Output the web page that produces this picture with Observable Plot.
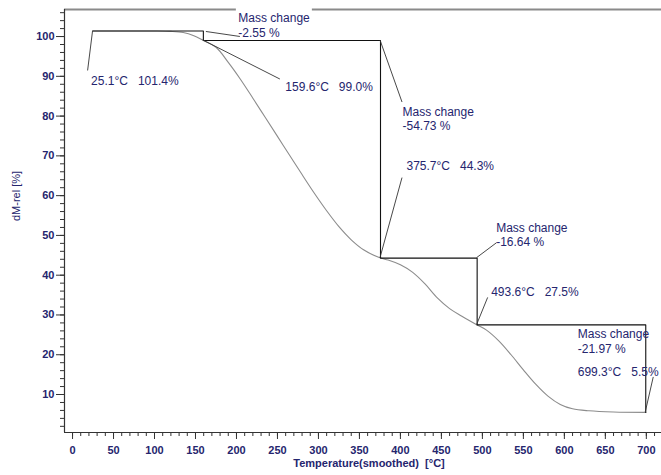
<!DOCTYPE html>
<html><head><meta charset="utf-8">
<script src="https://cdn.jsdelivr.net/npm/d3@7"></script>
<script src="https://cdn.jsdelivr.net/npm/@observablehq/plot@0.6"></script>
<style>body{margin:0;background:#fff} svg{display:block}</style>
</head><body><div id="chart"></div>
<script>
// TG curve (temperature °C, relative mass %)
const curveTemps = [25.1, 60, 100, 120, 135, 148, 159.6, 175, 190, 205, 220, 235, 250, 265, 280, 295, 310, 325, 340, 355, 375.7, 385, 400, 415, 430, 445, 460, 475, 493.6, 505, 520, 535, 550, 565, 580, 595, 610, 630, 660, 699.3];
const curveMass  = [101.4, 101.4, 101.4, 101.3, 101.0, 100.2, 99.0, 97.3, 93.5, 89.2, 84.5, 79.7, 74.9, 70.1, 65.3, 60.6, 56.2, 52.2, 48.9, 46.4, 44.3, 43.8, 42.6, 40.7, 37.8, 34.3, 31.6, 29.7, 27.5, 26.2, 23.5, 20.0, 16.2, 12.6, 9.6, 7.5, 6.4, 5.9, 5.6, 5.5];
// step evaluation points
const stepTemps  = [25.1, 159.6, 375.7, 493.6, 699.3];
const stepMasses = [101.4, 99.0, 44.3, 27.5, 5.5];
const massChanges = [-2.55, -54.73, -16.64, -21.97];
// axis ticks
const xMajorTicks = d3.range(0, 701, 50);
const xMinorTicks = d3.range(0, 711, 10);
const yMajorTicks = d3.range(10, 101, 10);
const yMinorTicks = d3.range(2, 107, 2);
const xTitle = "Temperature(smoothed)  [°C]";
const yTitle = "dM-rel [%]";

// layout (pixel offsets of annotations relative to their anchor points)
const pointLabelOffsets = [[-2, 50], [82, 47], [26, -92], [14, -33], [-68, -40]];
const pointLeaderEnds   = [[-5, 40], [77, 39], [22, -80], [11, -27], [8, -35]];
const massLabelOffsets  = [[35, -6], [22, 78], [19, -24], [-68, 16]];
const massLeaders       = [[[3, 1], [37, 6]], [[0, 0], [22, 62]], [[0, 0], [20, -15]], null];

const xDomain = [-9.8, 718.5];
const yDomain = [0.45, 106.8];
const navy = "#25256e";
const font = "'Liberation Sans', Arial, sans-serif";

const curve = curveTemps.map((t, i) => ({t, m: curveMass[i]}));
const stepPath = [];
stepTemps.forEach((t, i) => {
  if (i === 0) stepPath.push({t, m: stepMasses[0]});
  else { stepPath.push({t, m: stepMasses[i - 1]}); stepPath.push({t, m: stepMasses[i]}); }
});
const points = stepTemps.map((t, i) => ({t, m: stepMasses[i],
  label: `${t.toFixed(1)}°C\u00a0\u00a0 ${stepMasses[i].toFixed(1)}%`}));
const massLabels = massChanges.map((v, i) => ({t: stepTemps[i + 1], m: stepMasses[i],
  label: `Mass change\n${v.toFixed(2)} %`}));

const boxes = (index, {x, y}) => {
  const g = d3.create("svg:g").attr("fill", "white");
  massLabels.forEach((d, i) => {
    const px = x(d.t) + massLabelOffsets[i][0], py = y(d.m) + massLabelOffsets[i][1];
    g.append("rect").attr("x", px - 2).attr("y", py - 18).attr("width", 76).attr("height", 32);
  });
  return g.node();
};
const leaders = (index, {x, y}) => {
  const g = d3.create("svg:g").attr("stroke", "#333").attr("stroke-width", 0.9).attr("fill", "none");
  points.forEach((d, i) => {
    const px = x(d.t), py = y(d.m);
    g.append("line").attr("x1", px).attr("y1", py)
      .attr("x2", px + pointLeaderEnds[i][0]).attr("y2", py + pointLeaderEnds[i][1]);
  });
  massLabels.forEach((d, i) => {
    const L = massLeaders[i]; if (!L) return;
    const px = x(d.t), py = y(d.m);
    g.append("line").attr("x1", px + L[0][0]).attr("y1", py + L[0][1])
      .attr("x2", px + L[1][0]).attr("y2", py + L[1][1]);
  });
  return g.node();
};

const marks = [
  Plot.ruleY([yDomain[1]], {stroke: "#8a8a8a", strokeWidth: 2}),
  boxes,
  Plot.ruleY([yDomain[0]], {stroke: "#333", strokeWidth: 1.2}),
  Plot.ruleX([xDomain[0]], {stroke: "#333", strokeWidth: 1.2}),
  Plot.axisX({ticks: xMinorTicks, tickSize: 4, text: null, stroke: "#333", label: null}),
  Plot.axisX({ticks: xMajorTicks, tickSize: 7, text: null, stroke: "#333", label: null}),
  Plot.axisX({ticks: xMajorTicks, tickSize: 0, tickPadding: 14, fill: navy, fontWeight: "bold", fontSize: 11, label: null}),
  Plot.axisY({ticks: yMinorTicks, tickSize: 4, text: null, stroke: "#333", label: null}),
  Plot.axisY({ticks: yMajorTicks, tickSize: 8, text: null, stroke: "#333", label: null}),
  Plot.axisY({ticks: yMajorTicks, tickSize: 0, tickPadding: 10, fill: navy, fontWeight: "bold", fontSize: 11, label: null}),
  Plot.line(curve, {x: "t", y: "m", stroke: "#8c8c8c", strokeWidth: 1.1, curve: "catmull-rom"}),
  Plot.line(stepPath, {x: "t", y: "m", stroke: "#111", strokeWidth: 1.1}),
  leaders,
  Plot.text([xTitle], {frameAnchor: "bottom", dy: 34, dx: 6, fill: navy, fontWeight: "bold", fontSize: 11}),
  Plot.text([yTitle], {frameAnchor: "left", dx: -48, rotate: -90, fill: navy, fontSize: 11}),
];
points.forEach((d, i) => marks.push(Plot.text([d], {x: "t", y: "m", text: "label",
  dx: pointLabelOffsets[i][0], dy: pointLabelOffsets[i][1], textAnchor: "start",
  fill: navy, fontSize: 12})));
massLabels.forEach((d, i) => marks.push(Plot.text([d], {x: "t", y: "m", text: "label",
  dx: massLabelOffsets[i][0], dy: massLabelOffsets[i][1], textAnchor: "start", lineAnchor: "middle",
  lineHeight: 1.18, fill: navy, fontSize: 12})));

const chart = Plot.plot({
  width: 661, height: 475,
  marginLeft: 64, marginRight: 0, marginTop: 9, marginBottom: 43,
  style: {fontFamily: font, background: "white"},
  x: {domain: xDomain},
  y: {domain: yDomain},
  marks
});
document.getElementById("chart").append(chart);
</script>
</body></html>
